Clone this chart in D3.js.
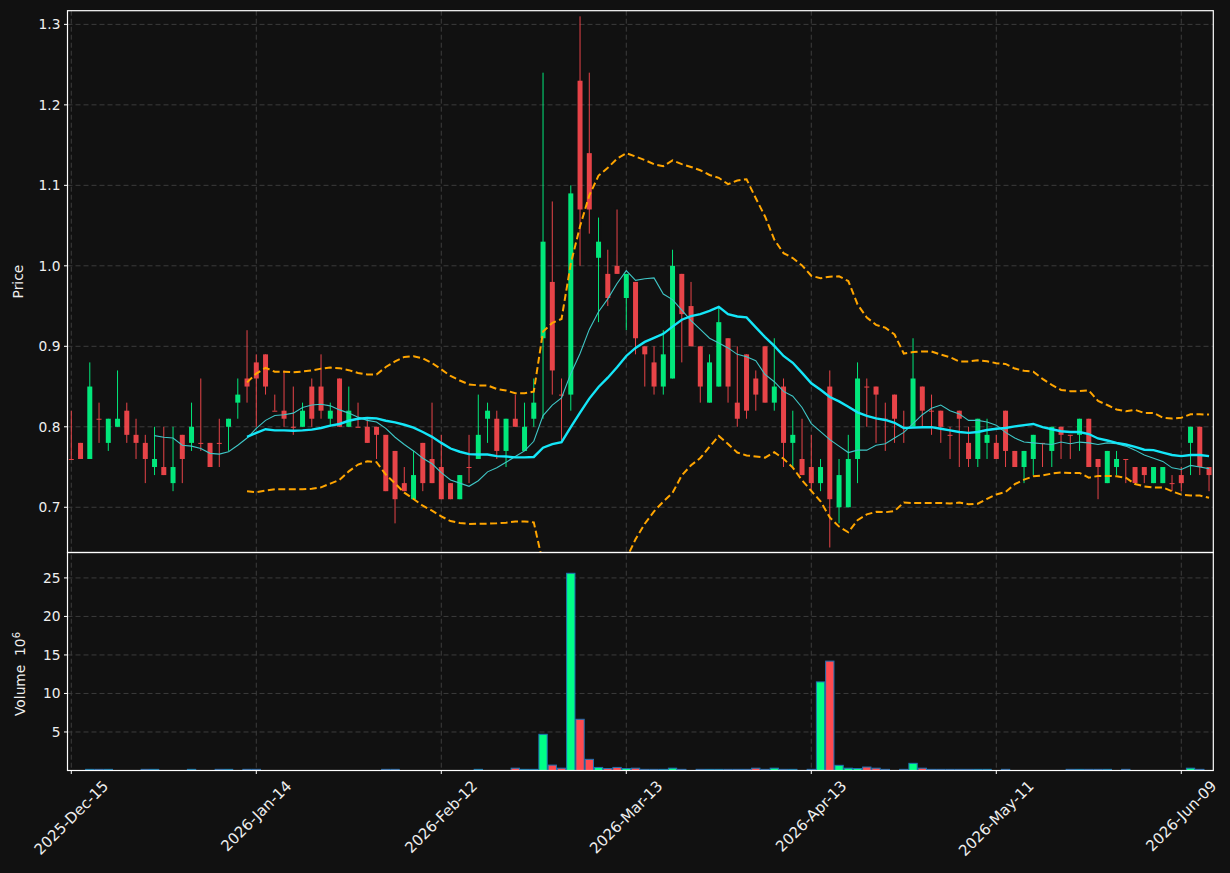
<!DOCTYPE html>
<meta charset="utf-8" />
<style>
  body { margin: 0; background: #111111; }
  svg { display: block; font-family: "DejaVu Sans", sans-serif; }
</style>
<svg width="1230" height="873"></svg>
<script src="https://d3js.org/d3.v7.min.js"></script>
<script>
  // daily OHLC, one entry per trading day
  var opens = [0.76,0.78,0.76,0.81,0.78,0.80,0.82,0.79,0.78,0.75,
    0.75,0.73,0.79,0.78,0.78,0.78,0.78,0.80,0.83,0.86,
    0.88,0.89,0.82,0.82,0.80,0.80,0.85,0.85,0.81,0.86,
    0.80,0.80,0.80,0.80,0.79,0.77,0.73,0.71,0.78,0.76,
    0.75,0.73,0.71,0.75,0.76,0.81,0.81,0.77,0.81,0.77,
    0.81,0.91,0.98,0.84,0.84,1.23,1.14,1.01,0.99,1.00,
    0.96,0.98,0.90,0.88,0.85,0.86,0.99,0.95,0.90,0.83,
    0.85,0.91,0.83,0.89,0.86,0.90,0.83,0.85,0.78,0.76,
    0.75,0.73,0.85,0.70,0.70,0.76,0.85,0.85,0.81,0.84,
    0.80,0.80,0.85,0.82,0.82,0.79,0.82,0.78,0.76,0.78,
    0.78,0.82,0.77,0.75,0.76,0.78,0.77,0.80,0.79,0.79,
    0.81,0.76,0.73,0.75,0.76,0.75,0.75,0.73,0.73,0.73,
    0.74,0.78,0.80,0.75];
  var highs = [0.82,0.78,0.88,0.83,0.81,0.87,0.83,0.81,0.79,0.80,
    0.80,0.80,0.79,0.83,0.86,0.78,0.81,0.81,0.86,0.92,
    0.89,0.89,0.84,0.87,0.85,0.83,0.86,0.89,0.83,0.86,
    0.85,0.83,0.81,0.80,0.79,0.77,0.75,0.77,0.78,0.83,
    0.79,0.73,0.74,0.79,0.84,0.83,0.82,0.81,0.84,0.83,
    0.86,1.24,1.08,0.86,1.10,1.31,1.24,1.06,1.02,1.07,
    0.99,0.98,0.90,0.90,0.92,1.02,0.99,0.98,0.90,0.89,
    0.95,0.91,0.90,0.89,0.87,0.90,0.91,0.86,0.82,0.81,
    0.79,0.76,0.87,0.76,0.79,0.88,0.86,0.85,0.83,0.84,
    0.82,0.91,0.85,0.84,0.82,0.80,0.82,0.80,0.81,0.81,
    0.79,0.82,0.77,0.77,0.79,0.78,0.80,0.80,0.79,0.81,
    0.81,0.76,0.77,0.77,0.76,0.75,0.75,0.75,0.75,0.74,
    0.75,0.80,0.80,0.75];
  var lows = [0.76,0.76,0.76,0.78,0.77,0.80,0.78,0.76,0.73,0.74,
    0.74,0.72,0.73,0.77,0.77,0.75,0.75,0.77,0.81,0.83,
    0.80,0.84,0.82,0.80,0.79,0.80,0.80,0.81,0.80,0.80,
    0.80,0.80,0.78,0.76,0.72,0.68,0.72,0.71,0.72,0.73,
    0.71,0.71,0.71,0.73,0.76,0.78,0.76,0.75,0.80,0.77,
    0.80,0.81,0.84,0.78,0.82,1.00,1.04,0.93,0.95,0.99,
    0.92,0.89,0.85,0.84,0.84,0.86,0.88,0.90,0.83,0.83,
    0.85,0.83,0.80,0.81,0.82,0.83,0.82,0.75,0.75,0.74,
    0.72,0.72,0.65,0.68,0.70,0.73,0.80,0.78,0.77,0.78,
    0.78,0.80,0.80,0.79,0.78,0.76,0.75,0.75,0.75,0.76,
    0.76,0.75,0.75,0.73,0.74,0.75,0.75,0.76,0.76,0.77,
    0.75,0.71,0.73,0.74,0.73,0.73,0.73,0.73,0.73,0.72,
    0.72,0.74,0.74,0.72];
  var closes = [0.76,0.76,0.85,0.81,0.81,0.81,0.79,0.78,0.76,0.76,
    0.74,0.75,0.76,0.80,0.78,0.75,0.78,0.81,0.84,0.85,
    0.86,0.85,0.82,0.81,0.80,0.82,0.81,0.82,0.82,0.80,
    0.82,0.80,0.78,0.79,0.72,0.71,0.72,0.74,0.73,0.73,
    0.71,0.71,0.74,0.75,0.79,0.82,0.77,0.81,0.80,0.80,
    0.83,1.03,0.87,0.84,1.09,1.07,1.07,1.03,0.96,0.99,
    0.99,0.91,0.89,0.85,0.89,1.00,0.94,0.90,0.85,0.88,
    0.93,0.85,0.81,0.82,0.84,0.83,0.85,0.78,0.79,0.74,
    0.73,0.75,0.71,0.74,0.76,0.86,0.85,0.84,0.81,0.81,
    0.80,0.86,0.82,0.82,0.80,0.79,0.81,0.76,0.81,0.79,
    0.76,0.77,0.75,0.77,0.79,0.78,0.80,0.79,0.79,0.81,
    0.75,0.75,0.77,0.76,0.76,0.73,0.74,0.75,0.75,0.73,
    0.73,0.80,0.75,0.74];
  // volume in millions
  var volumes = [0,0,0.15,0.15,0.15,0,0,0,0.15,0.15,
    0,0,0,0.15,0,0,0.15,0.15,0,0.15,
    0.15,0,0,0,0,0,0,0,0,0,
    0,0,0,0,0.15,0.15,0,0,0,0,
    0,0,0,0,0.15,0,0,0,0.3,0.15,
    0.15,4.7,0.7,0.3,25.6,6.65,1.45,0.4,0.25,0.4,
    0.25,0.3,0.15,0.15,0.15,0.3,0.15,0,0.15,0.15,
    0.15,0.15,0.15,0.15,0.3,0.15,0.3,0.15,0.15,0,
    0.15,11.5,14.2,0.67,0.3,0.25,0.45,0.3,0.15,0,
    0.15,0.93,0.3,0.15,0.15,0.15,0.15,0.15,0.15,0.15,
    0,0.15,0,0,0,0,0,0,0.15,0.15,
    0.15,0.15,0.15,0,0.15,0,0,0,0,0,
    0,0.3,0.15,0];

  var tickIdx = [0, 20, 40, 60, 80, 100, 120];
  var tickLabels = ["2025-Dec-15", "2026-Jan-14", "2026-Feb-12", "2026-Mar-13",
    "2026-Apr-13", "2026-May-11", "2026-Jun-09"];
  var priceTicks = [0.7, 0.8, 0.9, 1.0, 1.1, 1.2, 1.3];
  var volTicks = [5, 10, 15, 20, 25];

  var upColor = "#00ff87", downColor = "#ff4a4f";
  var textColor = "#eeeeee", gridColor = "#3c3c3c";

  var svg = d3.select("svg");
  var plotLeft = 67.5, plotRight = 1213.3, plotTop = 10.7, plotMid = 552.5, plotBottom = 770.5;

  var x = d3.scaleLinear().domain([-0.41, 123.46]).range([plotLeft, plotRight]);
  var y = d3.scaleLinear().domain([0.6438, 1.317]).range([plotMid, plotTop]);
  var yv = d3.scaleLinear().domain([0, 28.3]).range([plotBottom, plotMid]);

  var bars = closes.map(function(c, i) {
    return { i: i, o: opens[i], h: highs[i], l: lows[i], c: c, v: volumes[i], up: c > opens[i] };
  });

  // rolling stats on closes
  function rolling(arr, n, fn) {
    return arr.map(function(v, i) { return i < n - 1 ? null : fn(arr.slice(i - n + 1, i + 1)); });
  }
  var ma10 = rolling(closes, 10, d3.mean);
  var ma20 = rolling(closes, 20, d3.mean);
  var sd20 = rolling(closes, 20, d3.deviation);
  var bandUp = ma20.map(function(m, i) { return m == null ? null : m + 2 * sd20[i]; });
  var bandDn = ma20.map(function(m, i) { return m == null ? null : m - 2 * sd20[i]; });

  svg.append("rect").attr("width", 1230).attr("height", 873).attr("fill", "#111111");

  var defs = svg.append("defs");
  defs.append("clipPath").attr("id", "clipPrice").append("rect")
    .attr("x", plotLeft).attr("y", plotTop).attr("width", plotRight - plotLeft).attr("height", plotMid - plotTop);
  defs.append("clipPath").attr("id", "clipVol").append("rect")
    .attr("x", plotLeft).attr("y", plotMid).attr("width", plotRight - plotLeft).attr("height", plotBottom - plotMid);

  // grid
  var grid = svg.append("g").attr("stroke", gridColor).attr("stroke-width", 1).attr("stroke-dasharray", "5,3");
  grid.selectAll(".gx").data(tickIdx).enter().append("line")
    .attr("x1", d => x(d)).attr("x2", d => x(d)).attr("y1", plotTop).attr("y2", plotBottom);
  grid.selectAll(".gp").data(priceTicks).enter().append("line")
    .attr("x1", plotLeft).attr("x2", plotRight).attr("y1", d => y(d)).attr("y2", d => y(d));
  grid.selectAll(".gv").data(volTicks).enter().append("line")
    .attr("x1", plotLeft).attr("x2", plotRight).attr("y1", d => yv(d)).attr("y2", d => yv(d));

  // candles
  var price = svg.append("g").attr("clip-path", "url(#clipPrice)");
  var bodyW = 0.54;
  var candles = price.append("g").selectAll("g").data(bars).enter().append("g")
    .attr("opacity", 0.9);
  candles.append("line")
    .attr("x1", d => x(d.i)).attr("x2", d => x(d.i))
    .attr("y1", d => y(d.h)).attr("y2", d => y(d.l))
    .attr("stroke", d => d.up ? upColor : downColor).attr("stroke-width", 1);
  candles.append("rect")
    .attr("x", d => x(d.i - bodyW / 2))
    .attr("width", d => x(bodyW) - x(0))
    .attr("y", d => y(Math.max(d.o, d.c)))
    .attr("height", d => Math.max(1, y(Math.min(d.o, d.c)) - y(Math.max(d.o, d.c))))
    .attr("fill", d => d.up ? upColor : downColor);

  function lineOf(vals) {
    return d3.line().defined(d => d != null).x((d, i) => x(i)).y(d => y(d))(vals);
  }
  price.append("path").attr("d", lineOf(ma10)).attr("fill", "none")
    .attr("stroke", "#3fc6c6").attr("stroke-width", 1.1);
  price.append("path").attr("d", lineOf(ma20)).attr("fill", "none")
    .attr("stroke", "#14e6f8").attr("stroke-width", 2.4);
  [bandUp, bandDn].forEach(function(b) {
    price.append("path").attr("d", lineOf(b)).attr("fill", "none")
      .attr("stroke", "#ffa500").attr("stroke-width", 2).attr("stroke-dasharray", "7,3.5");
  });

  // volume
  var volW = 0.9;
  svg.append("g").attr("clip-path", "url(#clipVol)")
    .selectAll("rect").data(bars).enter().append("rect")
    .attr("x", d => x(d.i - volW / 2))
    .attr("width", d => x(volW) - x(0))
    .attr("y", d => yv(d.v))
    .attr("height", d => yv(0) - yv(d.v))
    .attr("fill", d => d.up ? upColor : downColor)
    .attr("stroke", "#1f72b4").attr("stroke-width", 1);

  // frames
  var frame = svg.append("g").attr("fill", "none").attr("stroke", "#ffffff").attr("stroke-width", 1.2);
  frame.append("rect").attr("x", plotLeft).attr("y", plotTop)
    .attr("width", plotRight - plotLeft).attr("height", plotMid - plotTop);
  frame.append("rect").attr("x", plotLeft).attr("y", plotMid)
    .attr("width", plotRight - plotLeft).attr("height", plotBottom - plotMid);

  // y ticks
  var axes = svg.append("g").attr("fill", textColor).attr("font-size", "13.8px");
  function yTicks(vals, scale, fmt) {
    var g = axes.append("g").selectAll("g").data(vals).enter().append("g");
    g.append("line").attr("x1", plotLeft - 3.5).attr("x2", plotLeft)
      .attr("y1", d => scale(d)).attr("y2", d => scale(d))
      .attr("stroke", "#ffffff").attr("stroke-width", 1);
    g.append("text").attr("x", plotLeft - 7).attr("y", d => scale(d)).attr("dy", "0.36em")
      .attr("text-anchor", "end").text(fmt);
  }
  yTicks(priceTicks, y, d => d.toFixed(1));
  yTicks(volTicks, yv, d => d);

  // x ticks, rotated labels centred under each tick
  var xt = axes.append("g").selectAll("g").data(tickIdx).enter().append("g");
  xt.append("line").attr("x1", d => x(d)).attr("x2", d => x(d))
    .attr("y1", plotBottom).attr("y2", plotBottom + 3.5)
    .attr("stroke", "#ffffff").attr("stroke-width", 1);
  xt.append("text").attr("font-size", "15px").attr("text-anchor", "middle")
    .attr("dominant-baseline", "central")
    .text((d, i) => tickLabels[i])
    .attr("transform", function(d) {
      var L = this.getComputedTextLength();
      var off = (L + 17) / (2 * Math.SQRT2);
      return "translate(" + x(d) + "," + (plotBottom + 7 + off) + ") rotate(-45)";
    });

  // axis titles
  axes.append("text").attr("transform", "translate(23," + ((plotTop + plotMid) / 2) + ") rotate(-90)")
    .attr("text-anchor", "middle").text("Price");
  var vl = axes.append("text").attr("transform", "translate(25,674) rotate(-90)")
    .attr("text-anchor", "middle");
  vl.append("tspan").text("Volume\u00a0\u00a010");
  vl.append("tspan").attr("dy", "-0.5em").attr("font-size", "10px").text("6");
</script>
